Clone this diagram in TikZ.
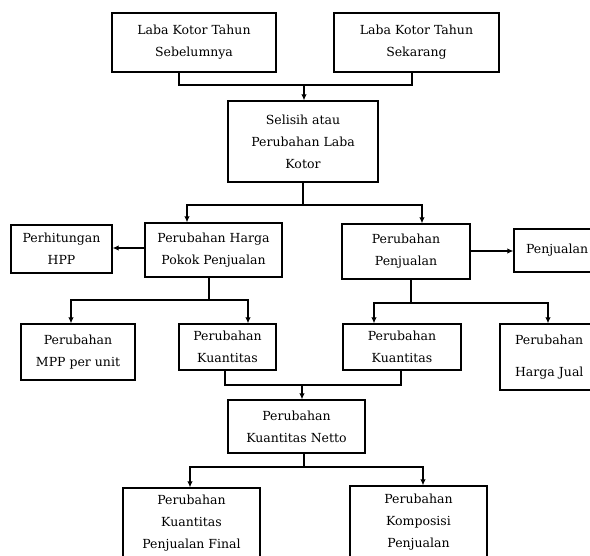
\documentclass[tikz,border=0pt]{standalone}
\usepackage{fontspec}
\setmainfont{DejaVu Serif}
\usetikzlibrary{arrows.meta, positioning, calc}

\begin{document}
\begin{tikzpicture}[
  x=1pt, y=-1pt,
  font=\fontsize{12.5}{22}\selectfont,
  box/.style={draw, line width=1.3pt, align=center, inner sep=0pt},
  line/.style={draw, line width=1.3pt},
  arr/.style={line, -{Latex[length=6pt,width=5.5pt]}}
]
  \useasboundingbox (0,0) rectangle (590,556);

  % baris atas
  \node[box, minimum width=164pt, minimum height=59pt] (lalu) at (194,42.5) {Laba Kotor Tahun\\Sebelumnya};
  \node[box, minimum width=165pt, minimum height=59pt] (kini) at (416.5,42.5) {Laba Kotor Tahun\\Sekarang};
  \node[box, minimum width=150pt, minimum height=81pt] (selisih) at (303,141.5) {Selisih atau\\Perubahan Laba\\Kotor};

  % baris kedua
  \node[box, minimum width=137pt, minimum height=54pt] (hpp) at (213.5,250) {Perubahan Harga\\Pokok Penjualan};
  \node[box, minimum width=101pt, minimum height=48pt] (hitung) at (61.5,249) {Perhitungan\\HPP};
  \node[box, minimum width=128pt, minimum height=55pt] (jual) at (406,251.5) {Perubahan\\Penjualan};
  \node[box, minimum width=88pt, minimum height=43pt, text width=64pt, align=left] (penj) at (558,250.5) {Penjualan};

  % baris ketiga
  \node[box, minimum width=114pt, minimum height=56pt] (mpp) at (78,352) {Perubahan\\MPP per unit};
  \node[box, minimum width=97pt, minimum height=46pt] (kuanA) at (227.5,347) {Perubahan\\Kuantitas};
  \node[box, minimum width=118pt, minimum height=46pt] (kuanB) at (402,347) {Perubahan\\Kuantitas};
  \node[box, minimum width=120pt, minimum height=66pt, text width=90pt, align=left] (harga) at (560,357) {Perubahan\\[10pt]Harga Jual};

  % baris bawah
  \node[box, minimum width=137pt, minimum height=53pt] (netto) at (296.5,426.5) {Perubahan\\Kuantitas Netto};
  \node[box, minimum width=137pt, minimum height=70pt] (final) at (191.5,523) {Perubahan\\Kuantitas\\Penjualan Final};
  \node[box, minimum width=137pt, minimum height=72pt] (komp) at (418.5,522) {Perubahan\\Komposisi\\Penjualan};

  % titik cabang
  \coordinate (j1) at (304,85);
  \coordinate (j2) at (303,205);
  \coordinate (j3) at (209,300);
  \coordinate (j4) at (411,303);
  \coordinate (j5) at (302,385);
  \coordinate (j6) at (304,467);

  % garis
  \draw[line] ([xshift=-15pt]lalu.south) |- (j1) -| ([xshift=-4.5pt]kini.south);
  \draw[arr] (j1) -- (selisih.north -| j1);
  \draw[line] (selisih.south) -- (j2);
  \draw[arr] (j2) -| ([xshift=-26.5pt]hpp.north);
  \draw[arr] (j2) -| ([xshift=16pt]jual.north);
  \draw[arr] (hpp.west |- 0,248) -- (hitung.east |- 0,248);
  \draw[arr] (jual.east |- 0,251) -- (penj.west |- 0,251);
  \draw[line] (hpp.south -| j3) -- (j3);
  \draw[arr] (j3) -| ([xshift=-7pt]mpp.north);
  \draw[arr] (j3) -| ([xshift=20.5pt]kuanA.north);
  \draw[line] (jual.south -| j4) -- (j4);
  \draw[arr] (j4) -| ([xshift=-28pt]kuanB.north);
  \draw[arr] (j4) -| (548,0 |- harga.north);
  \draw[line] ([xshift=-2.5pt]kuanA.south) |- (j5) -| ([xshift=-1pt]kuanB.south);
  \draw[arr] (j5) -- (netto.north -| j5);
  \draw[line] (netto.south -| j6) -- (j6);
  \draw[arr] (j6) -| ([xshift=-1.5pt]final.north);
  \draw[arr] (j6) -| ([xshift=4.5pt]komp.north);
\end{tikzpicture}
\end{document}
